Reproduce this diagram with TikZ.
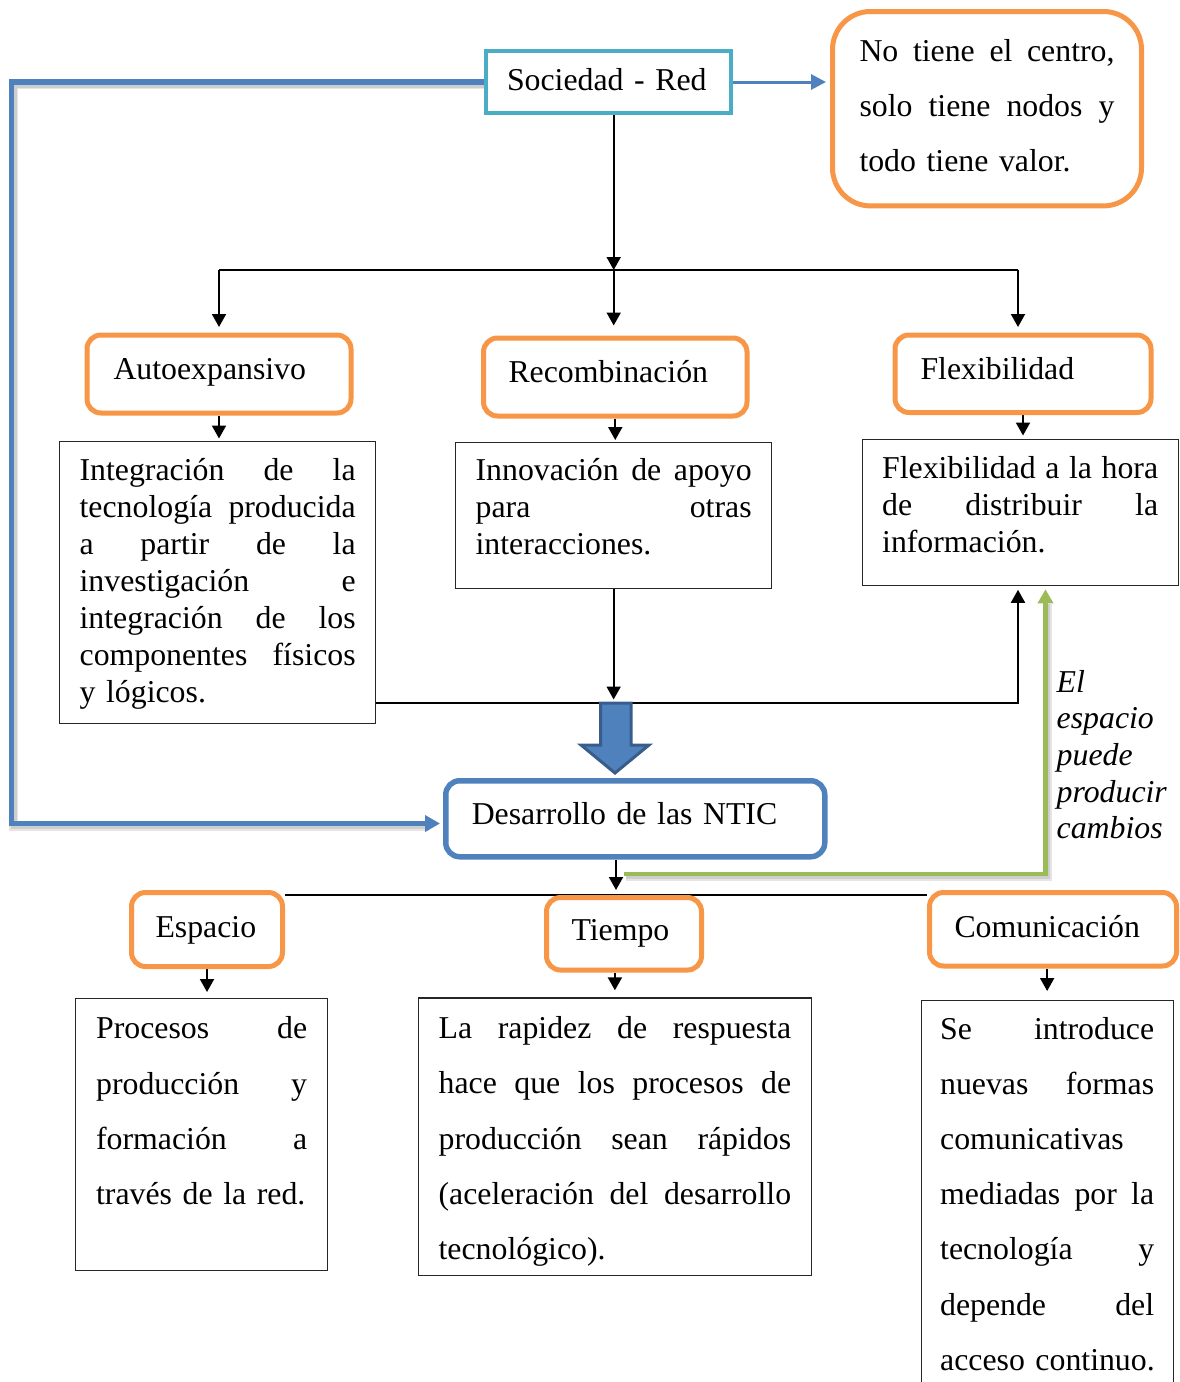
\documentclass[tikz,border=0pt]{standalone}
\usepackage{fontspec}
\setmainfont{Liberation Serif}
\usetikzlibrary{arrows.meta,calc}
\definecolor{orng}{HTML}{F79646}
\definecolor{cyn}{HTML}{4BACC6}
\definecolor{blu}{HTML}{4F81BD}
\definecolor{dblu}{HTML}{385D8A}
\definecolor{grn}{HTML}{9BBB59}
\newcommand\FsSmall{\fontsize{31.8pt}{37pt}\selectfont}
\newcommand\FsBig{\fontsize{31.8pt}{55.2pt}\selectfont}
\newcommand\FsLbl{\fontsize{31.8pt}{36.6pt}\selectfont}
\newcommand\TopS[1]{\rule{0pt}{#1pt}}
\newcommand\BotS[1]{\rule[-#1pt]{0pt}{#1pt}}
\newcommand\Jf{\hskip 0pt plus 1filll\relax}
\pgfdeclarelayer{bg}
\pgfsetlayers{bg,main}
\begin{document}
\begin{tikzpicture}[x=1pt,y=-1pt,
  box/.style={anchor=north west, inner ysep=0pt, align=left, fill=white},
  rbox/.style={box, rounded corners=14pt, line width=5pt, draw=orng, font=\FsSmall},
  tbox/.style={box, draw=black!85, line width=1.3pt, inner xsep=20pt, text width=276pt, font=\FsSmall},
  lbox/.style={box, draw=black!85, line width=1.3pt, font=\FsBig},
  arr/.style={line width=2pt, -{Triangle[width=14pt,length=13pt]}},
  blk/.style={line width=2pt},
  shadowline/.style={black, opacity=.10, line join=miter}]
\useasboundingbox (0,0) rectangle (1179,1382);

% ---------- nodes ----------
\node[box, draw=cyn, line width=4pt, text width=202pt, inner xsep=21.5pt, font=\FsSmall] (soc) at (483.5,49)
  {\TopS{39}Sociedad - Red\BotS{23}};
\node[rbox, rounded corners=38pt, text width=255pt, inner xsep=27pt, font=\FsBig] (notb) at (830,9)
  {\TopS{50}No\Jf tiene\Jf el\Jf centro,\\ solo\Jf tiene\Jf nodos\Jf y\\ todo tiene valor.\BotS{34}};

\node[rbox, text width=211pt, inner xsep=26.5pt] (auto) at (84.5,332.5) {\TopS{44.5}Autoexpansivo\BotS{33.5}};
\node[rbox, text width=213.5pt, inner xsep=25pt] (rec) at (481,335.5) {\TopS{44.5}Recombinación\BotS{33.5}};
\node[rbox, text width=205pt, inner xsep=25.5pt] (flex) at (892.5,332.5) {\TopS{44.2}Flexibilidad\BotS{33.3}};

\node[tbox] (b1) at (59,441)
  {\TopS{39}Integración\Jf de\Jf la\\ tecnología\Jf producida\\ a\Jf partir\Jf de\Jf la\\ investigación\Jf e\\ integración\Jf de\Jf los\\ componentes\Jf físicos\\ y lógicos.\BotS{21}};
\node[tbox] (b2) at (455,442)
  {\TopS{38}Innovación\Jf de\Jf apoyo\\ para\Jf otras\\ interacciones.\BotS{34}};
\node[tbox] (b3) at (861.5,439)
  {\TopS{39}Flexibilidad\Jf a\Jf la\Jf hora\\ de\Jf distribuir\Jf la\\ información.\BotS{32.5}};

\node[box, draw=blu, line width=5.5pt, rounded corners=14pt, text width=327pt, inner xsep=26pt, font=\FsSmall] (des) at (443,778)
  {\TopS{43.7}Desarrollo de las NTIC\BotS{32.3}};

\node[box, inner sep=0pt, text width=125pt, font=\itshape\FsLbl, fill=none] (lbl) at (1056.5,650)
  {\TopS{42}El\\ espacio\\ puede\\ producir\\ cambios};

\node[rbox, text width=103pt, inner xsep=24pt] (esp) at (129,890) {\TopS{45}Espacio\BotS{29}};
\node[rbox, text width=105pt, inner xsep=25pt] (tie) at (544,895) {\TopS{43}Tiempo\BotS{29.5}};
\node[rbox, text width=197pt, inner xsep=25pt] (com) at (927,890) {\TopS{45}Comunicación\BotS{28.5}};

\node[lbox, text width=211pt, inner xsep=20.5pt] (be) at (75,998)
  {\TopS{40.3}Procesos\Jf de\\ producción\Jf y\\ formación\Jf a\\ través de la red.\BotS{65.7}};
\node[lbox, text width=352.5pt, inner xsep=20pt] (bt) at (418,997.3)
  {\TopS{40.7}La\Jf rapidez\Jf de\Jf respuesta\\ hace\Jf que\Jf los\Jf procesos\Jf de\\ producción\Jf sean\Jf rápidos\\ (aceleración\Jf del\Jf desarrollo\\ tecnológico).\BotS{16}};
\node[lbox, text width=214pt, inner xsep=19pt] (bc) at (920.5,1000)
  {\TopS{38.5}Se\Jf introduce\\ nuevas\Jf formas\\ comunicativas\\ mediadas\Jf por\Jf la\\ tecnología\Jf y\\ depende\Jf del\\ \mbox{acceso continuo.}\BotS{30}};

% ---------- connectors ----------
\coordinate (jt) at (613.7,270);
\coordinate (fx) at (1018,270);
\coordinate (j) at (1018,702.7);
\coordinate (jb) at (0,699.5);
\coordinate (lx) at (11.5,823.5);
\coordinate (gs) at (624,874);
\coordinate (gx) at (1045.5,0);
\coordinate (da) at (616,0);
\coordinate (hy) at (0,895);

\begin{pgfonlayer}{bg}
  % soft shadows of the coloured connectors
  \begin{scope}[transform canvas={shift={(2pt,-2.5pt)}}]
    \draw[shadowline, line width=9pt] (soc.west) -| (lx) -- ($(lx -| des.west)+(-16,0)$);
    \draw[shadowline, line width=6pt] (soc.west) -| (lx) -- ($(lx -| des.west)+(-16,0)$);
    \draw[shadowline, line width=8pt] (gs) -| ($(gx |- b3.south)+(0,16)$);
    \draw[shadowline, line width=5pt] (gs) -| ($(gx |- b3.south)+(0,16)$);
  \end{scope}

  \draw[blu, line width=5.5pt, line join=miter, -{Triangle[width=16pt,length=15pt]}, shorten >=3pt]
    (soc.west) -| (lx) -- (lx -| des.west);
  \draw[blu, line width=3pt, -{Triangle[width=15pt,length=15pt]}, shorten >=4pt]
    (soc.east) -- (soc.east -| notb.west);

  \draw[arr] (jt |- soc.south) -- (jt);
  \draw[blk] (auto.north |- jt) -- (fx);
  \draw[arr, shorten >=5.5pt] (auto.north |- jt) -- (auto.north);
  \draw[arr, shorten >=10pt] (jt) -- (jt |- rec.north);
  \draw[arr, shorten >=5.5pt] (fx) -- (fx |- flex.north);

  \draw[arr, shorten >=2.5pt] (auto.south) -- (auto.south |- b1.north);
  \draw[arr, shorten >=2pt] (rec.south) -- (rec.south |- b2.north);
  \draw[arr, shorten >=3.5pt] (flex.south) -- (flex.south |- b3.north);

  \draw[arr, shorten >=4pt] (b1.east |- j) -| (j |- b3.south);
  \draw[arr] (b2.south) -- (b2.south |- jb);

  \filldraw[fill=blu, draw=dblu, line width=3pt, line join=miter]
    (600.5,703) -- (631,703) -- (631,745) -- (649,745) -- (615,773) -- (581,745) -- (600.5,745) -- cycle;

  \draw[grn, line width=4.5pt, line join=miter, -{Triangle[width=15pt,length=14pt]}, shorten >=3.5pt]
    (gs) -| (gx |- b3.south);

  \draw[arr, shorten >=5pt] (da |- des.south) -- (da |- tie.north);
  \draw[blk] (esp.east |- hy) -- (com.west |- hy);
  \draw[arr, shorten >=6pt] (esp.south) -- (esp.south |- be.north);
  \draw[arr, shorten >=7pt] (bt.north |- tie.south) -- (bt.north);
  \draw[arr, shorten >=9pt] (bc.north |- com.south) -- (bc.north);
\end{pgfonlayer}
\end{tikzpicture}
\end{document}
